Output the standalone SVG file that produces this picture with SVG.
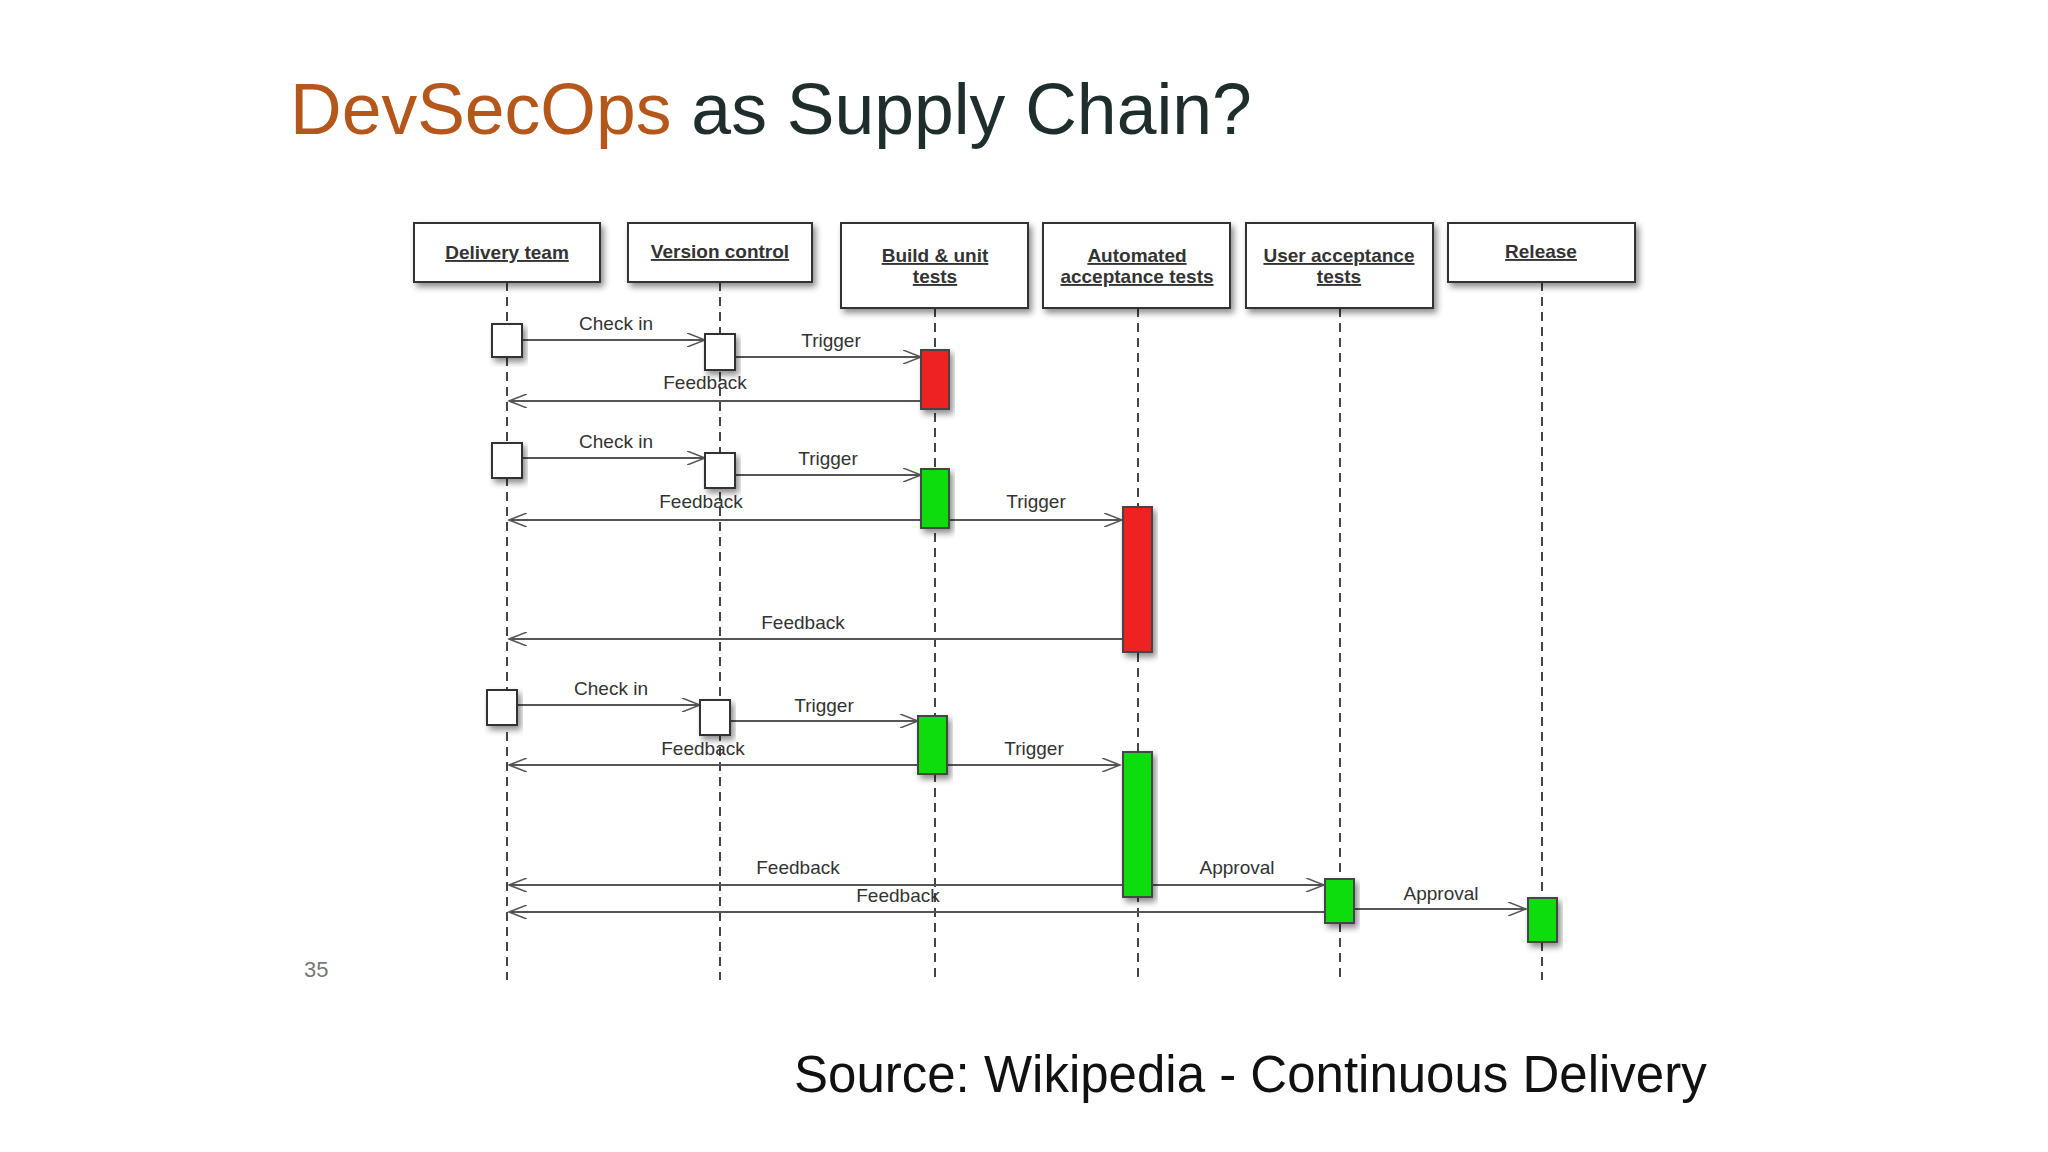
<svg xmlns="http://www.w3.org/2000/svg" width="2048" height="1152" viewBox="0 0 2048 1152">
<defs>
<marker id="a" markerWidth="20" markerHeight="14" refX="18" refY="7" orient="auto" markerUnits="userSpaceOnUse"><path d="M0,0 L18,7 L0,14" fill="none" stroke="#555" stroke-width="1.6"/></marker>
<filter id="sh" x="-10%" y="-10%" width="130%" height="140%"><feDropShadow dx="3" dy="4" stdDeviation="3" flood-color="#000" flood-opacity="0.45"/></filter>
</defs>
<style>
.h{fill:#fff;stroke:#333;stroke-width:2;filter:url(#sh)}
.ht{font-family:"Liberation Sans",Arial,sans-serif;font-size:19px;font-weight:bold;fill:#333;text-anchor:middle;text-decoration:underline}
.ll{stroke:#444;stroke-width:2;stroke-dasharray:9,6;fill:none}
.m{stroke:#555;stroke-width:1.8;fill:none;marker-end:url(#a)}
.t{font-family:"Liberation Sans",Arial,sans-serif;font-size:19px;fill:#333;text-anchor:middle}
.w{fill:#fff;stroke:#333;stroke-width:2;filter:url(#sh)}
.r{fill:#ee2222;stroke:#444;stroke-width:2;filter:url(#sh)}
.g{fill:#11dd11;stroke:#444;stroke-width:2;filter:url(#sh)}
</style>
<rect width="2048" height="1152" fill="#fff"/>
<text x="290" y="134" font-family="Liberation Sans,Arial,sans-serif" font-size="71.5" fill="#1f2d2d"><tspan fill="#b5561a">DevSecOps</tspan> as Supply Chain?</text>
<text x="304" y="977" font-family="Liberation Sans,Arial,sans-serif" font-size="22" fill="#777">35</text>
<text x="794" y="1092" font-family="Liberation Sans,Arial,sans-serif" font-size="51" fill="#111">Source: Wikipedia - Continuous Delivery</text>
<g id="lifelines">
<path class="ll" d="M507,282V980M720,282V980M935,308V980M1138,308V980M1340,308V980M1542,282V980"/>
</g>
<g id="n1"><rect class="h" x="414" y="223" width="186" height="59"/><text class="ht" x="507" y="259">Delivery team</text></g>
<g id="n2"><rect class="h" x="628" y="223" width="184" height="59"/><text class="ht" x="720" y="258">Version control</text></g>
<g id="n3"><rect class="h" x="841" y="223" width="187" height="85"/><text class="ht" x="935" y="262">Build &amp; unit</text><text class="ht" x="935" y="283">tests</text></g>
<g id="n4"><rect class="h" x="1043" y="223" width="187" height="85"/><text class="ht" x="1137" y="262">Automated</text><text class="ht" x="1137" y="283">acceptance tests</text></g>
<g id="n5"><rect class="h" x="1246" y="223" width="187" height="85"/><text class="ht" x="1339" y="262">User acceptance</text><text class="ht" x="1339" y="283">tests</text></g>
<g id="n6"><rect class="h" x="1448" y="223" width="187" height="59"/><text class="ht" x="1541" y="258">Release</text></g>
<g id="connectors">
<line class="m" x1="522" y1="340" x2="705" y2="340"/>
<line class="m" x1="735" y1="357" x2="921" y2="357"/>
<line class="m" x1="921" y1="401" x2="509" y2="401"/>
<line class="m" x1="522" y1="458" x2="705" y2="458"/>
<line class="m" x1="735" y1="475" x2="921" y2="475"/>
<line class="m" x1="921" y1="520" x2="509" y2="520"/>
<line class="m" x1="949" y1="520" x2="1122" y2="520"/>
<line class="m" x1="1123" y1="639" x2="509" y2="639"/>
<line class="m" x1="517" y1="705" x2="700" y2="705"/>
<line class="m" x1="730" y1="721" x2="918" y2="721"/>
<line class="m" x1="918" y1="765" x2="509" y2="765"/>
<line class="m" x1="947" y1="765" x2="1120" y2="765"/>
<line class="m" x1="1123" y1="885" x2="509" y2="885"/>
<line class="m" x1="1152" y1="885" x2="1324" y2="885"/>
<line class="m" x1="1325" y1="912" x2="509" y2="912"/>
<line class="m" x1="1354" y1="909" x2="1526" y2="909"/>
</g>
<g id="activations">
<rect class="w" x="492" y="324" width="30" height="33"/>
<rect class="w" x="705" y="334" width="30" height="36"/>
<rect class="r" x="921" y="350" width="28" height="59"/>
<rect class="w" x="492" y="443" width="30" height="35"/>
<rect class="w" x="705" y="453" width="30" height="35"/>
<rect class="g" x="921" y="469" width="28" height="59"/>
<rect class="r" x="1123" y="507" width="29" height="145"/>
<rect class="w" x="487" y="690" width="30" height="35"/>
<rect class="w" x="700" y="700" width="30" height="35"/>
<rect class="g" x="918" y="716" width="29" height="58"/>
<rect class="g" x="1123" y="752" width="29" height="145"/>
<rect class="g" x="1325" y="879" width="29" height="44"/>
<rect class="g" x="1528" y="898" width="29" height="44"/>
</g>
<g id="labels">
<text class="t" x="616" y="330">Check in</text>
<text class="t" x="831" y="347">Trigger</text>
<text class="t" x="705" y="389">Feedback</text>
<text class="t" x="616" y="448">Check in</text>
<text class="t" x="828" y="465">Trigger</text>
<text class="t" x="701" y="508">Feedback</text>
<text class="t" x="1036" y="508">Trigger</text>
<text class="t" x="803" y="629">Feedback</text>
<text class="t" x="611" y="695">Check in</text>
<text class="t" x="824" y="712">Trigger</text>
<text class="t" x="703" y="755">Feedback</text>
<text class="t" x="1034" y="755">Trigger</text>
<text class="t" x="798" y="874">Feedback</text>
<text class="t" x="1237" y="874">Approval</text>
<text class="t" x="898" y="902">Feedback</text>
<text class="t" x="1441" y="900">Approval</text>
</g>
</svg>
